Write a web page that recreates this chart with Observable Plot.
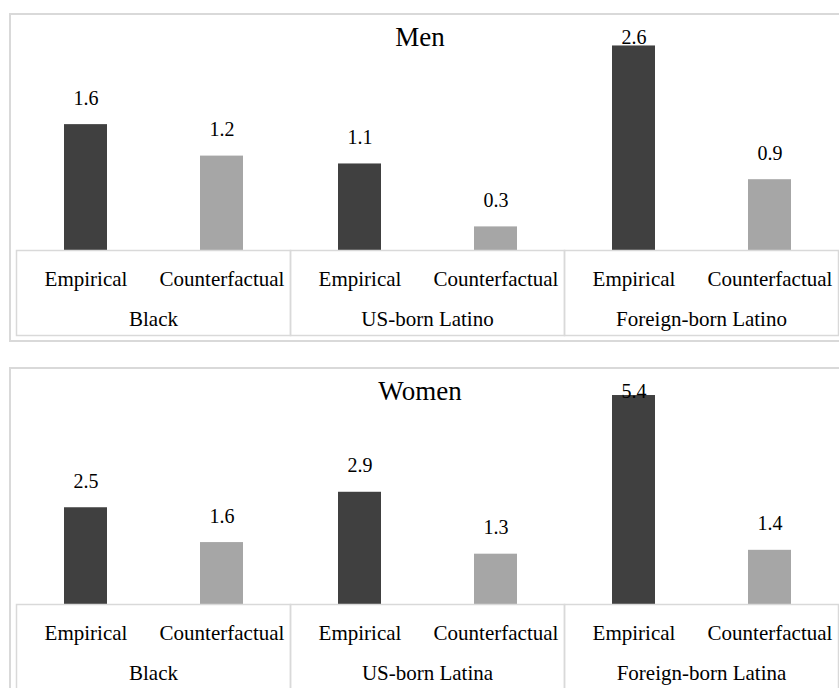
<!DOCTYPE html>
<html>
<head>
<meta charset="utf-8">
<script src="https://cdn.jsdelivr.net/npm/d3@7"></script>
<script src="https://cdn.jsdelivr.net/npm/@observablehq/plot@0.6"></script>
<style>
  html, body { margin: 0; padding: 0; background: #fff; }
  body { width: 839px; height: 688px; position: relative; overflow: hidden; font-family: "Liberation Serif", "Times New Roman", serif; }
  .panel {
    position: absolute; left: 9px; width: 828px;
    border: 2px solid #d9d9d9; border-right: none;
  }
  .panel-title {
    position: absolute; left: 0; top: 9px; width: 818px;
    text-align: center; font-size: 27px; line-height: 27px; color: #000;
  }
  .panel svg { display: block; font-family: "Liberation Serif", "Times New Roman", serif; }
</style>
</head>
<body>
<script>
// Bar values by group, in group order
const conditions = ["Empirical", "Counterfactual"];

const groupsMen = ["Black", "US-born Latino", "Foreign-born Latino"];
const menEmpirical = [1.6, 1.1, 2.6];
const menCounterfactual = [1.2, 0.3, 0.9];

const groupsWomen = ["Black", "US-born Latina", "Foreign-born Latina"];
const womenEmpirical = [2.5, 2.9, 5.4];
const womenCounterfactual = [1.6, 1.3, 1.4];

const barColors = ["#404040", "#a6a6a6"];
const serif = "Liberation Serif";
const fmt = d3.format(".1f");

function rowsFor(groups, empirical, counterfactual) {
  const rows = [];
  groups.forEach((g, i) => {
    rows.push({group: g, cond: conditions[0], value: empirical[i]});
    rows.push({group: g, cond: conditions[1], value: counterfactual[i]});
  });
  return rows;
}

function panel({title, top, groups, empirical, counterfactual, yDomain, yRange}) {
  const rows = rowsFor(groups, empirical, counterfactual);
  const W = 828, H = 325, mTop = 235, mBottom = 5;

  // keep value labels from running past the top of the panel
  const yPx = d3.scaleLinear(yDomain, yRange);
  const labelGap = 20;
  const labelCeiling = yPx.invert(28 + labelGap);

  const chart = Plot.plot({
    width: W,
    height: H,
    marginTop: mTop,
    marginBottom: mBottom,
    marginLeft: 4,
    marginRight: 1,
    style: {fontFamily: serif, background: "transparent"},
    fx: {domain: groups, padding: 0, axis: null},
    x: {domain: conditions, paddingInner: 0.6865, paddingOuter: 0.3433, axis: null},
    y: {domain: yDomain, range: yRange, axis: null},
    color: {domain: conditions, range: barColors},
    marks: [
      Plot.barY(rows, {fx: "group", x: "cond", y: "value", fill: "cond"}),
      Plot.text(rows, {
        fx: "group", x: "cond",
        y: d => Math.min(d.value, labelCeiling),
        text: d => fmt(d.value),
        lineAnchor: "bottom", dy: -labelGap,
        fontFamily: serif, fontSize: 20, fill: "#000"
      }),
      // category table beneath the bars
      Plot.frame({stroke: "#d9d9d9", strokeWidth: 1.5}),
      Plot.text(rows, {
        fx: "group", x: "cond", text: "cond",
        frameAnchor: "top", lineAnchor: "middle", dy: 29,
        fontFamily: serif, fontSize: 21, fill: "#000"
      }),
      Plot.text(groups, {
        fx: d => d, text: d => d,
        frameAnchor: "bottom", lineAnchor: "middle", dy: -16.7,
        fontFamily: serif, fontSize: 21, fill: "#000"
      })
    ]
  });

  const div = document.createElement("div");
  div.className = "panel";
  div.style.top = top + "px";
  div.style.height = H + "px";
  div.appendChild(chart);
  const t = document.createElement("div");
  t.className = "panel-title";
  t.textContent = title;
  div.appendChild(t);
  document.body.appendChild(div);
}

panel({
  title: "Men", top: 13,
  groups: groupsMen, empirical: menEmpirical, counterfactual: menCounterfactual,
  yDomain: [0, 3], yRange: [235, -1]
});

panel({
  title: "Women", top: 367,
  groups: groupsWomen, empirical: womenEmpirical, counterfactual: womenCounterfactual,
  yDomain: [0, 6], yRange: [235, 2.8]
});
</script>
</body>
</html>
